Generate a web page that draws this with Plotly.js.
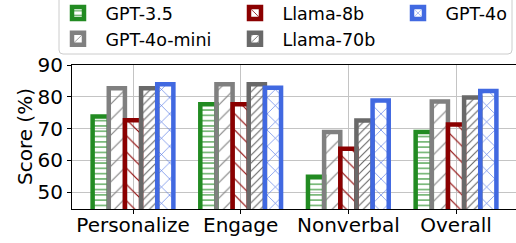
<!DOCTYPE html>
<html>
<head>
<meta charset="utf-8">
<script src="https://cdn.plot.ly/plotly-3.0.1.min.js"></script>
<style>html,body{margin:0;padding:0;background:#fff;}#chart{width:516px;height:243px;}</style>
</head>
<body>
<div id="chart"></div>
<script>
// ---- data ----
var categories = ['Personalize', 'Engage', 'Nonverbal', 'Overall'];
var seriesNames = ['GPT-3.5', 'GPT-4o-mini', 'Llama-8b', 'Llama-70b', 'GPT-4o'];
var gpt35    = [73.8, 77.6, 54.8, 68.9];
var gpt4omini = [82.7, 83.9, 68.9, 78.5];
var llama8b  = [72.6, 77.6, 63.6, 71.3];
var llama70b = [82.7, 83.9, 72.5, 79.8];
var gpt4o    = [83.9, 82.8, 78.8, 81.8];
var yTicks = [50, 60, 70, 80, 90];
var yTitle = 'Score (%)';

// ---- styles ----
var colors = ['#228B22', '#808080', '#8B0000', '#696969', '#4169E1'];
var hatches = [
  {shape: '-', size: 5.3, solidity: 0.2},
  {shape: '/', size: 11, solidity: 0.1},
  {shape: '\\', size: 11.5, solidity: 0.1},
  {shape: '/', size: 5.6, solidity: 0.2},
  {shape: 'x', size: 11.5, solidity: 0.1}
];
var legendIds = ['legend', 'legend', 'legend2', 'legend2', 'legend3'];
var values = [gpt35, gpt4omini, llama8b, llama70b, gpt4o];

var traces = values.map(function (v, i) {
  return {
    type: 'bar',
    name: seriesNames[i],
    x: categories,
    y: v,
    legend: legendIds[i],
    marker: {
      color: colors[i],
      line: {color: colors[i], width: 4.5},
      pattern: {shape: hatches[i].shape, size: hatches[i].size, solidity: hatches[i].solidity,
                fgcolor: colors[i], fillmode: 'replace'}
    },
    hoverinfo: 'skip'
  };
});

var F = 'DejaVu Sans, sans-serif';
var legendCommon = {
  orientation: 'v', xanchor: 'left', yanchor: 'top',
  bgcolor: 'rgba(0,0,0,0)', borderwidth: 0, itemwidth: 45,
  font: {family: F, size: 17.5, color: '#000'}, tracegroupgap: 0
};
function leg(x) { return Object.assign({}, legendCommon, {x: x, y: 1.485}); }

var plotW = 444, plotH = 144;
function px2x(p) { return (p - 72) / plotW; }
function px2y(p) { return (209 - p) / plotH; }
var bx0 = px2x(59), bx1 = px2x(512), by0 = px2y(54), by1 = px2y(-5);
var rx = 4 / plotW, ry = 4 / plotH;
var boxPath = 'M' + (bx0 + rx) + ',' + by0 + ' L' + (bx1 - rx) + ',' + by0 +
  ' Q' + bx1 + ',' + by0 + ' ' + bx1 + ',' + (by0 + ry) +
  ' L' + bx1 + ',' + by1 + ' L' + bx0 + ',' + by1 + ' L' + bx0 + ',' + (by0 + ry) +
  ' Q' + bx0 + ',' + by0 + ' ' + (bx0 + rx) + ',' + by0 + ' Z';

var layout = {
  width: 516, height: 243,
  margin: {l: 72, r: 0, t: 65, b: 34, pad: 0, autoexpand: false},
  paper_bgcolor: '#fff', plot_bgcolor: '#fff',
  font: {family: F, color: '#000'},
  barmode: 'group', bargap: 0.25, bargroupgap: 0,
  showlegend: true,
  legend: leg(px2x(50.5)),
  legend2: leg(px2x(227.5)),
  legend3: leg(px2x(390.5)),
  xaxis: {
    type: 'category', range: [-0.5665, 3.557], automargin: false,
    showgrid: true, gridcolor: '#c4c4c4', gridwidth: 1,
    showline: true, linecolor: '#000', linewidth: 1, mirror: true,
    ticks: 'outside', ticklen: 4, tickcolor: '#000', tickwidth: 1,
    ticklabelstandoff: -6,
    tickfont: {family: F, size: 20, color: '#000'}, zeroline: false
  },
  yaxis: {
    range: [44.65, 90], tickvals: yTicks, ticktext: yTicks.map(String), automargin: false,
    showgrid: true, gridcolor: '#c4c4c4', gridwidth: 1,
    showline: true, linecolor: '#000', linewidth: 1, mirror: false,
    ticks: 'outside', ticklen: 4, tickcolor: '#000', tickwidth: 1,
    tickfont: {family: F, size: 20, color: '#000'}, zeroline: false
  },
  annotations: [{
    text: yTitle, xref: 'paper', yref: 'paper', x: px2x(25), y: px2y(137),
    xanchor: 'center', yanchor: 'middle', textangle: -90, showarrow: false,
    font: {family: F, size: 20, color: '#000'}
  }],
  shapes: [{
    type: 'path', xref: 'paper', yref: 'paper', path: boxPath,
    line: {color: '#cccccc', width: 1}, fillcolor: 'rgba(255,255,255,0.8)', layer: 'below'
  }]
};

Plotly.newPlot('chart', traces, layout, {staticPlot: true, displayModeBar: false});
</script>
</body>
</html>
